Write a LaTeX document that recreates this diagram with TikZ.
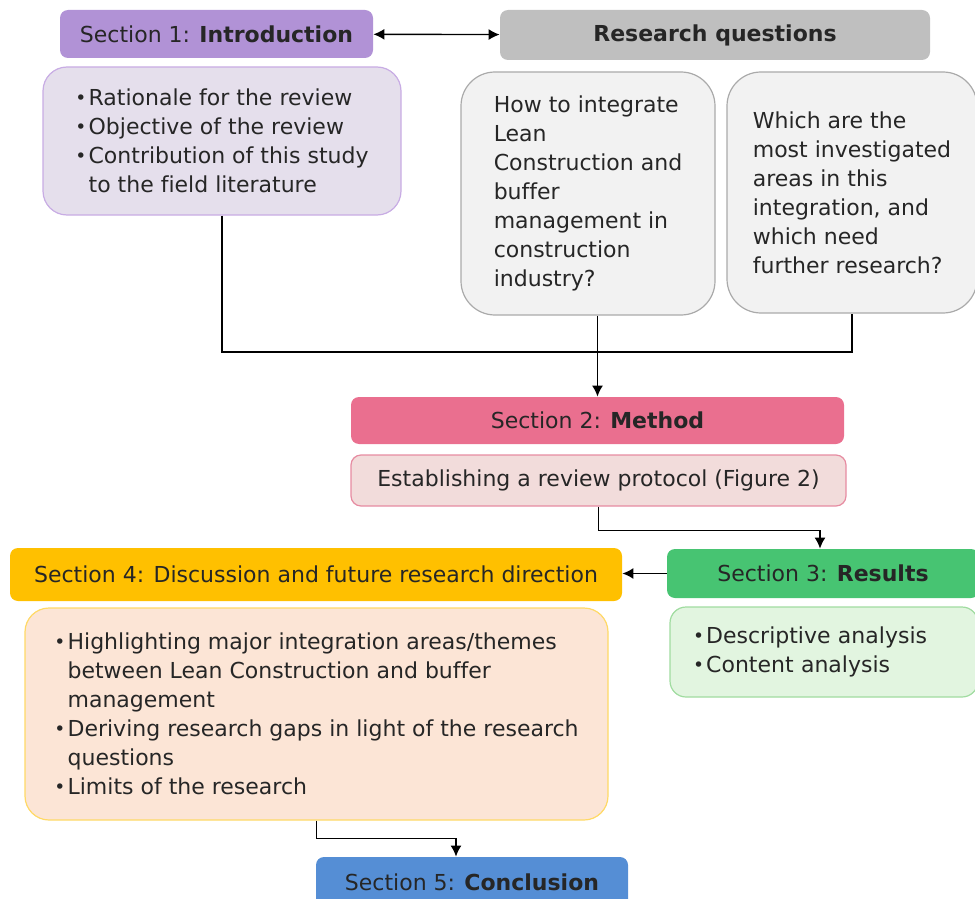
\documentclass[tikz,border=0pt]{standalone}
\usepackage{graphicx}
\usepackage{fontspec}
\setmainfont{DejaVu Sans}[Ligatures=NoCommon]
\usetikzlibrary{positioning,arrows.meta}
\definecolor{introhead}{RGB}{177,146,214}
\definecolor{introfill}{RGB}{229,223,236}
\definecolor{introline}{RGB}{200,172,228}
\definecolor{rqhead}{RGB}{191,191,191}
\definecolor{qfill}{RGB}{242,242,242}
\definecolor{qline}{RGB}{170,170,170}
\definecolor{methhead}{RGB}{234,111,143}
\definecolor{methfill}{RGB}{242,220,219}
\definecolor{methline}{RGB}{230,140,162}
\definecolor{reshead}{RGB}{71,196,114}
\definecolor{resfill}{RGB}{226,245,224}
\definecolor{resline}{RGB}{160,220,160}
\definecolor{dischead}{RGB}{255,192,0}
\definecolor{discfill}{RGB}{252,229,214}
\definecolor{discline}{RGB}{255,217,102}
\definecolor{conchead}{RGB}{85,142,213}
\newcommand{\bul}{\makebox[0.6em][l]{\raisebox{0.1ex}{\scalebox{0.85}{\textbullet}}}}
\newcommand{\bulgap}{\hspace*{0.6em}}

\begin{document}
\begin{tikzpicture}[x=0.5pt,y=-0.5pt,
    every node/.style={font=\fontsize{11}{14.5}\selectfont, text=black!85},
    head/.style={rounded corners=4pt, inner sep=0pt},
    box/.style={rounded corners=12pt, inner sep=0pt, align=left, line width=0.6pt},
    link/.style={line width=0.7pt},
    tip/.style={-{Latex[length=5.5pt,width=5.5pt]}}]
\useasboundingbox (0,0) rectangle (975,899);
\clip (0,0) rectangle (975,899);

\node[head, fill=introhead, minimum width=156.5pt, minimum height=24pt] (intro) at (216.5,34) {Section 1: \textbf{Introduction}};
\node[box, fill=introfill, draw=introline, minimum width=179pt, minimum height=74pt] (introbox) at (222,141)
    {\bul Rationale for the review\\ \bul Objective of the review\\ \bul Contribution of this study\\ \bulgap to the field literature};

\node[head, fill=rqhead, minimum width=215pt, minimum height=25pt] (rq) at (715,35) {\textbf{Research questions}};
\node[box, rounded corners=17pt, fill=qfill, draw=qline, minimum width=127pt, minimum height=121.5pt] (q1) at (588,193.5)
    {How to integrate\\Lean\\Construction and\\buffer\\management in\\construction\\industry?};
\node[box, rounded corners=17pt, fill=qfill, draw=qline, minimum width=125pt, minimum height=120.5pt] (q2) at (852,192.5)
    {Which are the\\most investigated\\areas in this\\integration, and\\which need\\further research?};

\draw[link, {Latex[length=5.5pt,width=5.5pt]}-{Latex[length=5.5pt,width=5.5pt]}] (intro) -- (rq);

\node[head, fill=methhead, minimum width=246.5pt, minimum height=23.5pt] (method) at (597.5,420.5) {Section 2: \textbf{Method}};
\node[box, rounded corners=5pt, fill=methfill, draw=methline, minimum width=247.5pt, minimum height=25.5pt] (methbox) at (598.5,480.5)
    {Establishing a review protocol (Figure 2)};

\coordinate (join) at (597,352);
\draw[link] (introbox.south) |- (join) -| (q2.south);
\draw[link, tip] (method.north |- q1.south) -- (method);

\node[head, fill=reshead, minimum width=156pt, minimum height=24.5pt] (results) at (823,573.5) {Section 3: \textbf{Results}};
\node[box, rounded corners=8pt, fill=resfill, draw=resline, minimum width=154pt, minimum height=45pt, text width=131pt] (resbox) at (824,652)
    {\bul Descriptive analysis\\ \bul Content analysis};
\draw[link, tip] (methbox.south) -- ++(0,24) -| ([xshift=-1.5pt]results.north);

\node[head, fill=dischead, minimum width=306pt, minimum height=26.5pt] (disc) at (316,574.5) {Section 4: Discussion and future research direction};
\node[box, fill=discfill, draw=discline, minimum width=291.5pt, minimum height=106pt] (discbox) at (316.5,714)
    {\bul Highlighting major integration areas/themes\\ \bulgap between Lean Construction and buffer\\ \bulgap management\\
     \bul Deriving research gaps in light of the research\\ \bulgap questions\\ \bul Limits of the research};
\draw[link, tip] (results.west) -- (results.west -| disc.east);

\node[head, fill=conchead, minimum width=156pt, minimum height=25pt] (concl) at (472,882) {Section 5: \textbf{Conclusion}};
\draw[link, tip] (discbox.south) -- ++(0,18) -| ([xshift=-8pt]concl.north);
\end{tikzpicture}
\end{document}
